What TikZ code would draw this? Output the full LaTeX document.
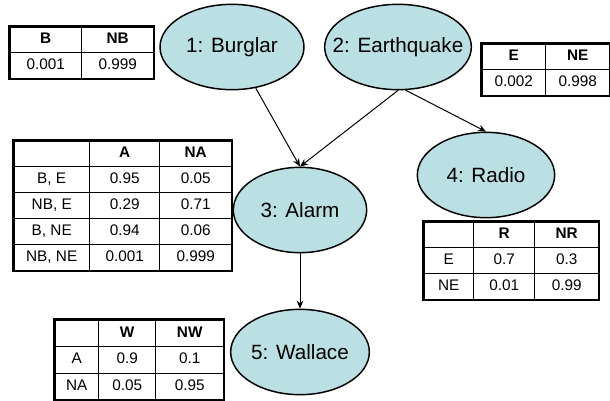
\documentclass[tikz,border=0pt]{standalone}
\usepackage{fontspec}
\setmainfont{Liberation Sans}
\usetikzlibrary{shapes,arrows,arrows.meta,positioning,matrix}

\definecolor{varblue}{RGB}{187,224,227}
\newcommand{\varfont}{\fontsize{15.5}{18}\selectfont}
\newcommand{\tabfont}{\fontsize{11.5}{13}\selectfont}
\newcommand{\vtext}[1]{\makebox[0pt]{#1}}

\begin{document}
\begin{tikzpicture}[x=0.75pt,y=-0.75pt]
			\tikzstyle{Var}	= [ellipse, draw, line width=1.1pt, fill=varblue, minimum height=64pt, inner sep=0pt, font=\varfont]
			\tikzstyle{CPT}	= [matrix of nodes, nodes in empty cells, draw, line width=2pt, inner sep=0pt, matrix anchor=north west, column sep=-0.6pt, row sep=-0.6pt, nodes={draw, line width=0.6pt, anchor=center, minimum height=19.5pt, text height=8.5pt, text depth=2.5pt, inner sep=0pt, font=\tabfont}, row 1/.style={nodes={font=\tabfont\bfseries}}]
			\tikzstyle{Dep}	= [line width=0.75pt, -{Stealth[length=6pt,width=5pt]}]

			\useasboundingbox (0,0) rectangle (610,400);

			\node (bu) at (232,47) [Var, minimum width=108pt] {\vtext{1: Burglar}};
			\node (eq) at (398,47) [Var, minimum width=110pt] {\vtext{2: Earthquake}};
			\node (al) at (300,210) [Var, minimum width=100pt] {\vtext{3: Alarm}};
			\node (ra) at (486,175) [Var, minimum width=103pt] {\vtext{4: Radio}};
			\node (wa) at (300,352) [Var, minimum width=104pt] {\vtext{5: Wallace}};

			\matrix (tB) at (8,25) [CPT, column 1/.style={nodes={minimum width=54pt}}, column 2/.style={nodes={minimum width=54pt}}] {
				B & NB \\
				0.001 & 0.999 \\
			};
			\matrix (tE) at (480,42) [CPT, column 1/.style={nodes={minimum width=48pt}}, column 2/.style={nodes={minimum width=48pt}}] {
				E & NE \\
				0.002 & 0.998 \\
			};
			\matrix (tA) at (12,139) [CPT, column 1/.style={nodes={minimum width=57pt}}, column 2/.style={nodes={minimum width=52.5pt}}, column 3/.style={nodes={minimum width=54pt}}] {
				 & A & NA \\
				B, E & 0.95 & 0.05 \\
				NB, E & 0.29 & 0.71 \\
				B, NE & 0.94 & 0.06 \\
				NB, NE & 0.001 & 0.999 \\
			};
			\matrix (tR) at (422,220) [CPT, column 1/.style={nodes={minimum width=37.5pt}}, column 2/.style={nodes={minimum width=45.75pt}}, column 3/.style={nodes={minimum width=48pt}}] {
				 & R & NR \\
				E & 0.7 & 0.3 \\
				NE & 0.01 & 0.99 \\
			};
			\matrix (tW) at (53,318) [CPT, nodes={minimum height=20pt}, column 1/.style={nodes={minimum width=33pt}}, column 2/.style={nodes={minimum width=42.75pt}}, column 3/.style={nodes={minimum width=51pt}}] {
				 & W & NW \\
				A & 0.9 & 0.1 \\
				NA & 0.05 & 0.95 \\
			};

			\draw [Dep] (bu.-60) to (al.north);
			\draw [Dep] (eq.south) to (al.north);
			\draw [Dep] (eq.-80) to (ra.north);
			\draw [Dep] (al) to (wa);
		\end{tikzpicture}
\end{document}
